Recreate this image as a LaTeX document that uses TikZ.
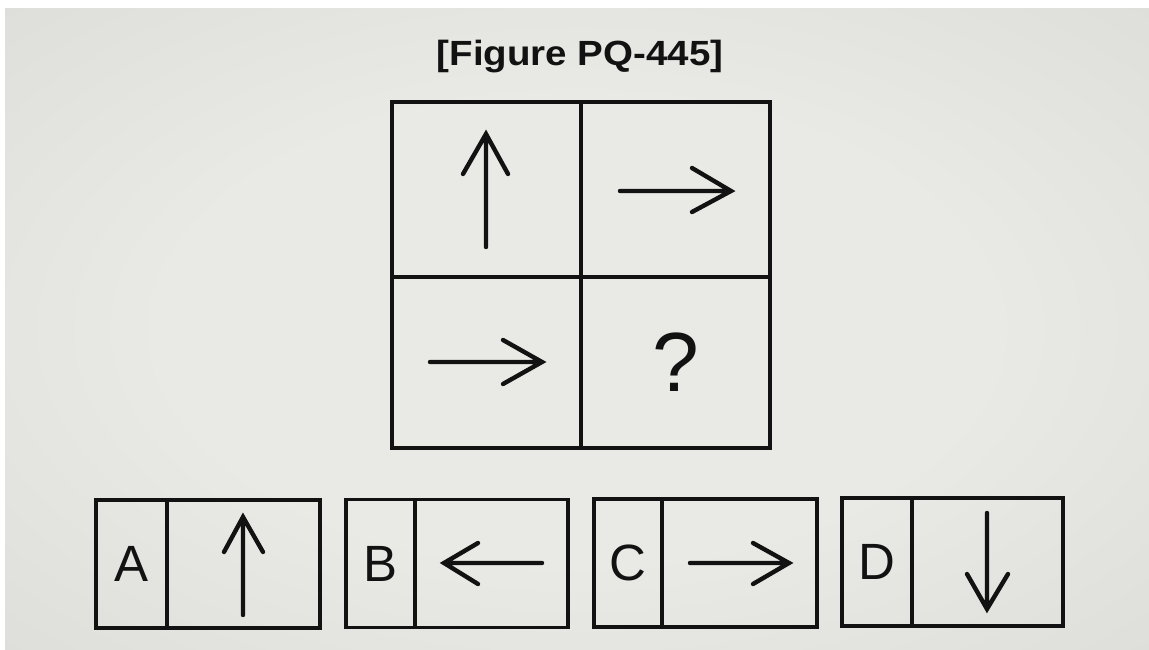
\documentclass[tikz,border=0pt]{standalone}
\usepackage{fontspec}
\setmainfont{Liberation Sans}
\definecolor{bgin}{RGB}{233,233,229}
\definecolor{bgmid}{RGB}{218,219,214}
\definecolor{bgout}{RGB}{182,183,178}
\definecolor{ink}{RGB}{18,18,18}
\pgfdeclareradialshading{bgshade}{\pgfpoint{0bp}{0bp}}{color(0bp)=(bgin); color(18bp)=(bgin); color(42bp)=(bgmid); color(71bp)=(bgout)}
\begin{document}
\begin{tikzpicture}[x=1pt,y=-1pt,
  cell/.style={draw=ink, line width=3.3pt, inner sep=0pt, font=\fontsize{84}{84}\selectfont},
  lbl/.style={draw=ink, line width=3.1pt, inner sep=0pt, font=\fontsize{51}{51}\selectfont},
  arw/.style={draw=ink, line width=4.4pt, line cap=round, line join=miter}
]
\useasboundingbox (0,0) rectangle (1149,650);
\fill[white] (0,0) rectangle (1149,650);
\shade[shading=bgshade] (5,9) rectangle (1149,650);

% title
\node[anchor=base, inner sep=0pt, text=ink] (title) at (580,66)
  {\scalebox{1.1}[1]{\fontsize{35}{35}\selectfont\bfseries [Figure PQ-445]}};

% 2x2 grid
\node[cell, minimum width=189pt, minimum height=175pt] (tl) at (486.5,189.5) {};
\node[cell, minimum width=189pt, minimum height=175pt] (tr) at (675.5,189.5) {};
\node[cell, minimum width=189pt, minimum height=171pt] (bl) at (486.5,362.5) {};
\node[cell, minimum width=189pt, minimum height=171pt, text=ink] (br) at (675.5,362.5) {?};

% arrows in grid
\draw[arw] (486,247) -- (486,134) (463,174) -- (486,134) -- (508,174);
\draw[arw] (620,191) -- (731,191) (692,168) -- (731,191) -- (692,212);
\draw[arw] (430,362) -- (542,362) (503,340) -- (542,362) -- (503,384);

% options
\node[lbl, minimum width=71pt, minimum height=128pt, text=ink] (la) at (131.5,564) {A};
\node[lbl, minimum width=153pt, minimum height=128pt] (ca) at (243.5,564) {};
\node[lbl, minimum width=69pt, minimum height=128pt, text=ink] (lb) at (380.5,563.5) {B};
\node[lbl, minimum width=153pt, minimum height=128pt] (cb) at (491.5,563.5) {};
\node[lbl, minimum width=68pt, minimum height=128pt, text=ink] (lc) at (628,563) {C};
\node[lbl, minimum width=155pt, minimum height=128pt] (cc) at (739.5,563) {};
\node[lbl, minimum width=70pt, minimum height=128pt, text=ink] (ld) at (877,562) {D};
\node[lbl, minimum width=151pt, minimum height=128pt] (cd) at (987.5,562) {};

\draw[arw] (243,615) -- (243,517) (224,552) -- (243,517) -- (263,552);
\draw[arw] (542,563) -- (444,563) (478,543) -- (444,563) -- (478,584);
\draw[arw] (690,563) -- (789,563) (753,543) -- (789,563) -- (753,584);
\draw[arw] (987,513) -- (987,609) (967,574) -- (987,609) -- (1008,574);
\end{tikzpicture}
\end{document}
